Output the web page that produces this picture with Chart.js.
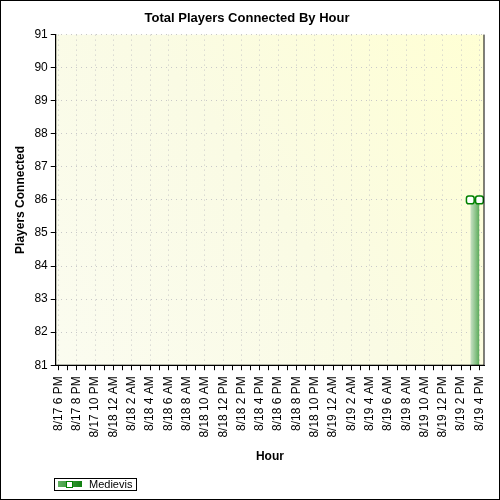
<!DOCTYPE html>
<html><head><script src="https://cdn.jsdelivr.net/npm/chart.js@4"></script>
<style>body{margin:0;background:#fff}</style></head>
<body><canvas id="c" width="500" height="500"></canvas>
<script>
const tickLabels=["8/17 6 PM","8/17 8 PM","8/17 10 PM","8/18 12 AM","8/18 2 AM","8/18 4 AM","8/18 6 AM","8/18 8 AM","8/18 10 AM","8/18 12 PM","8/18 2 PM","8/18 4 PM","8/18 6 PM","8/18 8 PM","8/18 10 PM","8/19 12 AM","8/19 2 AM","8/19 4 AM","8/19 6 AM","8/19 8 AM","8/19 10 AM","8/19 12 PM","8/19 2 PM","8/19 4 PM"];
const hours=[45,46];
const players=[86,86];
const seriesName="Medievis";
const bgPlugin={id:'bg',
beforeDraw(ch){const {ctx,chartArea:a}=ch;ctx.save();ctx.fillStyle='#fff';ctx.fillRect(0,0,500,500);
const g=ctx.createLinearGradient(a.left,a.bottom,a.right,a.top);g.addColorStop(0,'#fbfcf0');g.addColorStop(0.5,'#fafbe4');g.addColorStop(1,'#ffffd4');
ctx.fillStyle=g;ctx.fillRect(a.left,a.top,a.right-a.left,a.bottom-a.top);ctx.restore();},
afterDraw(ch){const {ctx,chartArea:a}=ch;ctx.save();ctx.strokeStyle='#000';ctx.lineWidth=1;
ctx.strokeRect(0.5,0.5,499,499);
ctx.beginPath();ctx.moveTo(a.left,a.top);ctx.lineTo(a.left,a.bottom);ctx.lineTo(a.right,a.bottom);ctx.lineTo(a.right,a.top);ctx.stroke();
ctx.strokeRect(54.5,478.5,82,12);
const g=ctx.createLinearGradient(58,0,82,0);g.addColorStop(0,'#60b060');g.addColorStop(1,'#108010');
ctx.fillStyle=g;ctx.fillRect(58,481,24,6);ctx.fillStyle='#fff';ctx.strokeStyle='#008000';ctx.fillRect(66.5,481.5,6,6);ctx.strokeRect(66.5,481.5,6,6);
ctx.fillStyle='#000';ctx.font='11px "Liberation Sans",Arial';ctx.textBaseline='middle';ctx.fillText(seriesName,89,485);
ctx.restore();}};
new Chart(document.getElementById('c'),{type:'line',
data:{datasets:[{label:seriesName,data:hours.map((h,i)=>({x:h,y:players[i]})),borderColor:'#008000',borderWidth:1.5,
fill:'start',backgroundColor(c){const a=c.chart.chartArea;if(!a)return '#4a4';const g=c.chart.ctx.createLinearGradient(a.right-14,0,a.right,0);g.addColorStop(0,'rgba(200,225,200,0.9)');g.addColorStop(1,'#1a8a1a');return g;},
pointStyle:'rectRounded',pointRadius:4.5,pointBackgroundColor:'#fff',pointBorderColor:'#008000',pointBorderWidth:1.5}]},
options:{responsive:false,devicePixelRatio:1,animation:false,
layout:{padding:{top:4,right:15,left:9,bottom:32}},
plugins:{legend:{display:false},tooltip:{enabled:false},
title:{display:true,text:'Total Players Connected By Hour',color:'#000',font:{family:'"Liberation Sans",Arial',size:13,weight:'bold'},padding:{top:7,bottom:8}}},
scales:{x:{type:'linear',min:-0.3,max:46.5,afterBuildTicks(s){s.ticks=[];for(let h=0;h<=46;h++)s.ticks.push({value:h});},
ticks:{autoSkip:false,maxRotation:90,minRotation:90,padding:6,color:'#000',font:{family:'"Liberation Sans",Arial',size:12},callback:(v)=>v%2===0?tickLabels[v/2]:''},
grid:{color:(c)=>c.tick&&c.tick.value%2===0?'#c8c8c8':'rgba(0,0,0,0)',tickColor:'#000',tickLength:5},border:{color:'#000',dash:[1,4]},
title:{display:true,text:'Hour',color:'#000',font:{family:'"Liberation Sans",Arial',size:12,weight:'bold'},padding:{top:6}}},
y:{min:81,max:91,ticks:{stepSize:1,color:'#000',font:{family:'"Liberation Sans",Arial',size:12}},
grid:{color:'#c8c8c8',tickLength:5,tickColor:'#000'},border:{color:'#000',dash:[1,4]},
title:{display:true,text:'Players Connected',color:'#000',font:{family:'"Liberation Sans",Arial',size:12,weight:'bold'}}}}},
plugins:[bgPlugin]});
</script></body></html>
